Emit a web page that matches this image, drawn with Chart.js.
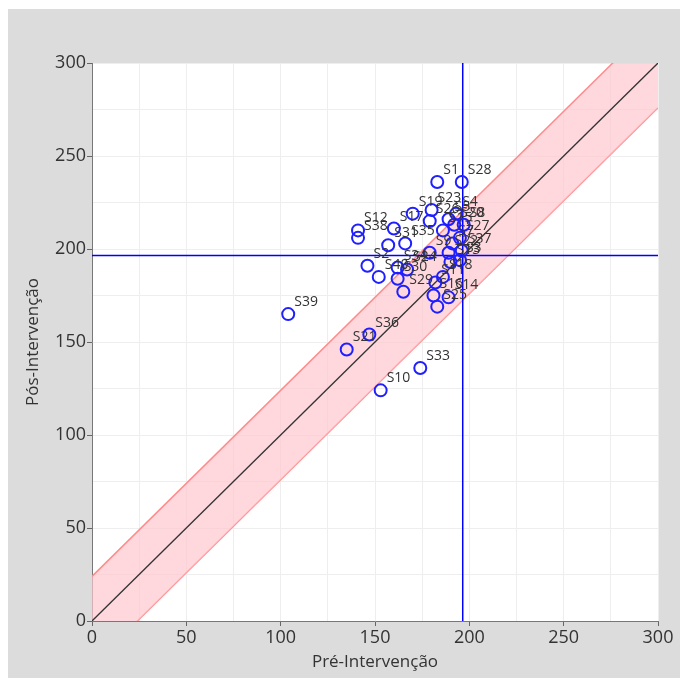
<!DOCTYPE html>
<html>
<head>
<meta charset="utf-8">
<script src="https://cdn.jsdelivr.net/npm/chart.js@4/dist/chart.umd.min.js"></script>
<style>
  html, body { margin: 0; padding: 0; background: #fff; }
  #box { position: absolute; left: 8px; top: 9px; width: 672px; height: 669px; background: #dcdcdc; }
  canvas { display: block; }
</style>
</head>
<body>
<div id="box"><canvas id="chart" width="672" height="669"></canvas></div>
<script>
// subjects: pre / post scores
const subjects = ['S1', 'S28', 'S19', 'S23', 'S26', 'S5', 'S4', 'S8', 'S20', 'S15',
  'S12', 'S38', 'S17', 'S35', 'S31', 'S2', 'S40', 'S34', 'S24', 'S30',
  'S29', 'S9', 'S22', 'S13', 'S3', 'S7', 'S27', 'S37', 'S18', 'S11',
  'S16', 'S14', 'S25', 'S39', 'S36', 'S21', 'S33', 'S10'];
const preScores = [183, 196, 170, 180, 179, 189, 193, 197, 192, 186,
  141, 141, 160, 166, 157, 146, 152, 162, 167, 162,
  165, 179, 189, 190, 195, 191, 195, 196, 186, 182,
  181, 189, 183, 104, 147, 135, 174, 153];
const postScores = [236, 236, 219, 221, 215, 216, 219, 213, 213, 210,
  210, 206, 211, 203, 202, 191, 185, 190, 189, 184,
  177, 198, 198, 193, 194, 203, 206, 199, 185, 182,
  175, 174, 169, 165, 154, 146, 136, 124];

const axisTicks = [0, 50, 100, 150, 200, 250, 300];
const refPre = 196.5;
const refPost = 196.5;
const bandHalfWidth = 24;

const axisMax = axisTicks[axisTicks.length - 1];
const points = preScores.map((x, i) => ({ x, y: postScores[i] }));

// white plotting area on the grey panel
const plotBackground = {
  id: 'plotBackground',
  beforeDraw(chart) {
    const { ctx, chartArea: a } = chart;
    ctx.save();
    ctx.fillStyle = '#fff';
    ctx.fillRect(a.left, a.top, a.right - a.left, a.bottom - a.top);
    ctx.restore();
  }
};

// subject ids next to each circle
const pointLabels = {
  id: 'pointLabels',
  afterDatasetsDraw(chart) {
    const meta = chart.getDatasetMeta(0);
    const ctx = chart.ctx;
    ctx.save();
    ctx.font = '14px "Open Sans"';
    ctx.fillStyle = '#333';
    ctx.textAlign = 'left';
    ctx.textBaseline = 'alphabetic';
    meta.data.forEach((pt, i) => {
      ctx.fillText(subjects[i], pt.x + 6, pt.y - 8);
    });
    ctx.restore();
  }
};

const tickFont = { family: 'Open Sans', size: 18 };
const titleFont = { family: 'Open Sans', size: 17 };

new Chart(document.getElementById('chart'), {
  type: 'scatter',
  data: {
    datasets: [
      {
        label: 'Sujeitos', data: points, order: 0,
        pointRadius: 6, pointHoverRadius: 6, borderWidth: 2,
        borderColor: '#1f1fff', backgroundColor: 'transparent', showLine: false
      },
      {
        label: 'ref-x', data: [{ x: refPre, y: 0 }, { x: refPre, y: axisMax }], order: 1,
        showLine: true, pointRadius: 0, borderColor: '#0000ff', borderWidth: 1.5
      },
      {
        label: 'ref-y', data: [{ x: 0, y: refPost }, { x: axisMax, y: refPost }], order: 1,
        showLine: true, pointRadius: 0, borderColor: '#0000ff', borderWidth: 1.5
      },
      {
        label: 'identidade', data: [{ x: 0, y: 0 }, { x: axisMax, y: axisMax }], order: 2,
        showLine: true, pointRadius: 0, borderColor: '#333', borderWidth: 1.3
      },
      {
        label: 'limite superior',
        data: [{ x: 0, y: bandHalfWidth }, { x: axisMax, y: axisMax + bandHalfWidth }], order: 3,
        showLine: true, pointRadius: 0, borderColor: '#ff8c8c', borderWidth: 1.5,
        fill: '+1', backgroundColor: 'rgba(255, 200, 208, 0.7)'
      },
      {
        label: 'limite inferior',
        data: [{ x: 0, y: -bandHalfWidth }, { x: axisMax, y: axisMax - bandHalfWidth }], order: 3,
        showLine: true, pointRadius: 0, borderColor: '#ff8c8c', borderWidth: 1.5
      }
    ]
  },
  options: {
    responsive: false,
    animation: false,
    events: [],
    layout: { padding: { top: 54, right: 22, left: 0, bottom: 0 } },
    plugins: { legend: { display: false }, tooltip: { enabled: false } },
    scales: {
      x: {
        type: 'linear', min: 0, max: axisMax,
        afterFit: s => { s.height = 57; },
        border: { color: '#777', width: 1 },
        grid: {
          color: '#eeeeee', tickLength: 5,
          tickColor: c => (c.tick && c.tick.value % 50 === 0 ? '#666' : 'transparent')
        },
        ticks: {
          stepSize: 25, maxRotation: 0, padding: 1, color: '#333', font: tickFont,
          callback: v => (axisTicks.includes(v) ? v : '')
        },
        title: { display: true, text: 'Pré-Intervenção', color: '#333', font: titleFont, padding: { top: 0, bottom: 6 } }
      },
      y: {
        type: 'linear', min: 0, max: axisMax,
        afterFit: s => { s.width = 84; },
        border: { color: '#777', width: 1 },
        grid: {
          color: '#eeeeee', tickLength: 5,
          tickColor: c => (c.tick && c.tick.value % 50 === 0 ? '#666' : 'transparent')
        },
        ticks: {
          stepSize: 25, padding: 1, color: '#333', font: tickFont,
          callback: v => (axisTicks.includes(v) ? v : '')
        },
        title: { display: true, text: 'Pós-Intervenção', color: '#333', font: titleFont, padding: { top: 15, bottom: 0 } }
      }
    }
  },
  plugins: [plotBackground, pointLabels]
});
</script>
</body>
</html>
